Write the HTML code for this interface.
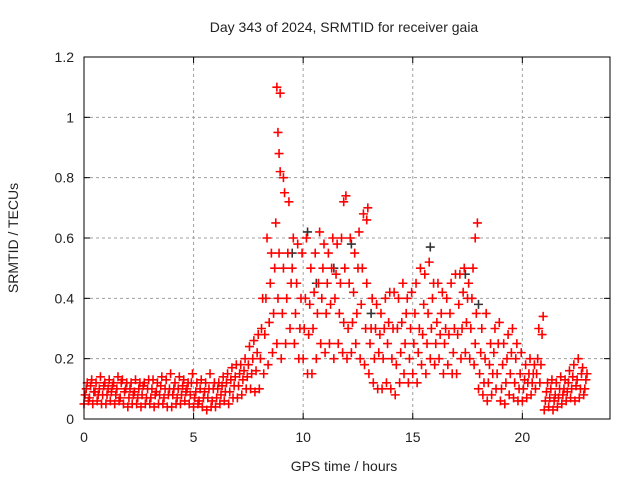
<!DOCTYPE html>
<html><head><meta charset="utf-8"><style>
body{margin:0;background:#fff;}
svg text{font-family:"Liberation Sans",sans-serif;font-size:14px;fill:#222;}
</style></head><body>
<svg id="chart" width="640" height="480" viewBox="0 0 640 480" xmlns="http://www.w3.org/2000/svg">
<rect width="640" height="480" fill="#fff"/>
<text x="344" y="32" text-anchor="middle">Day 343 of 2024, SRMTID for receiver gaia</text>
<g id="grid"></g>
<g id="ticks"></g>
<g id="marks"></g>
<rect x="84" y="57" width="526" height="362" fill="none" stroke="#000" stroke-width="1"/>
<text transform="translate(18,238) rotate(-90)" text-anchor="middle">SRMTID / TECUs</text>
<text x="344" y="471" text-anchor="middle">GPS time / hours</text>
</svg>
<script>
const xTicks=[0,5,10,15,20];
const yTicks=[0,0.2,0.4,0.6,0.8,1,1.2];
const yTickLabels=["0","0.2","0.4","0.6","0.8","1","1.2"];
const hours=[];for(let i=0;i<=114;i++)hours.push(+(i*0.2).toFixed(1));
const seriesA=[.05,.06,.05,.06,.05,.05,.06,.05,.06,.05,.04,.05,.05,.04,.05,.05,.04,.05,.05,.04,.04,.05,.05,.06,.05,.04,.05,.04,.03,.04,.04,.05,.06,.05,.07,.07,.08,.1,.1,.09,.1,.15,.18,.22,.25,.2,.25,.3,.25,.2,.2,.15,.15,.2,.25,.22,.25,.2,.25,.22,.2,.22,.25,.2,.18,.15,.12,.1,.1,.12,.1,.08,.12,.15,.12,.15,.12,.18,.15,.2,.18,.2,.15,.18,.15,.15,.2,.22,.2,.18,.1,.08,.06,.08,.1,.06,.05,.08,.07,.06,.06,.07,.08,.1,.12,.03,.04,.03,.04,.05,.06,.07,.06,.07,.08];
const seriesB=[.08,.07,.09,.08,.08,.08,.09,.08,.07,.09,.07,.08,.07,.08,.07,.07,.08,.08,.07,.08,.08,.07,.08,.09,.08,.07,.06,.07,.07,.06,.07,.08,.09,.09,.11,.11,.13,.14,.15,.16,.2,.28,.32,.35,.4,.35,.4,.45,.35,.3,.3,.28,.3,.35,.4,.35,.38,.4,.35,.32,.3,.32,.35,.38,.3,.25,.2,.22,.2,.25,.2,.18,.22,.25,.2,.25,.22,.28,.25,.3,.25,.28,.25,.28,.22,.28,.3,.32,.3,.25,.15,.12,.12,.15,.15,.1,.12,.15,.12,.1,.1,.12,.12,.15,.18,.06,.07,.06,.07,.08,.09,.1,.11,.1,.1];
const seriesC=[.1,.11,.09,.1,.11,.1,.11,.1,.12,.1,.1,.09,.1,.11,.1,.1,.09,.11,.1,.1,.1,.1,.11,.1,.12,.09,.1,.09,.1,.1,.1,.11,.12,.13,.14,.15,.16,.18,.2,.22,.3,.4,.45,.5,.55,.5,.55,.5,.45,.4,.4,.38,.42,.45,.5,.45,.5,.48,.45,.5,.45,.42,.5,.5,.45,.3,.3,.28,.3,.32,.3,.3,.32,.35,.3,.35,.3,.38,.35,.4,.32,.35,.3,.35,.3,.38,.42,.4,.4,.35,.22,.2,.18,.22,.25,.18,.2,.22,.2,.15,.13,.15,.15,.2,.28,.09,.1,.08,.1,.1,.12,.14,.13,.15,.13];
const seriesD=[.12,.13,.12,.14,.12,.13,.12,.14,.13,.12,.12,.13,.12,.12,.13,.13,.12,.14,.13,.15,.12,.14,.13,.12,.15,.12,.13,.12,.15,.12,.12,.14,.15,.17,.18,.18,.2,.24,.26,.28,.4,.6,.55,.65,1.08,.75,.72,.6,.58,.55,.6,.5,.55,.62,.58,.55,.6,.58,.6,.74,.6,.55,.62,.68,.7,.4,.38,.35,.4,.42,.42,.4,.45,.4,.42,.45,.5,.48,.52,.45,.45,.42,.4,.45,.48,.48,.5,.45,.5,.65,.3,.35,.25,.3,.32,.25,.28,.3,.25,.22,.18,.2,.18,.3,.34,.12,.13,.12,.14,.13,.16,.18,.2,.17,.15];
const peakHours=[8.8,8.85,8.9,8.95,9.1,11.85,12.9,17.85];
const peakValues=[1.1,0.95,0.88,0.82,0.8,0.72,0.66,0.6];
const darkHours=[9.5,10.2,10.6,11.4,12.2,13.1,15.8,17.4,18.0];
const darkValues=[0.55,0.62,0.45,0.5,0.58,0.35,0.57,0.48,0.38];
const X0=84,X1=610,Y0=419,Y1=57;
const xs=h=>X0+(h/24)*(X1-X0);
const ys=v=>Y0-(v/1.2)*(Y0-Y1);
const NS="http://www.w3.org/2000/svg";
const grid=document.getElementById('grid'),ticks=document.getElementById('ticks'),marks=document.getElementById('marks');
function mk(tag,attrs,parent){const e=document.createElementNS(NS,tag);for(const k in attrs)e.setAttribute(k,attrs[k]);parent.appendChild(e);return e;}
yTicks.forEach((v,i)=>{const y=ys(v);
 if(v>0&&v<1.2){const g=mk('line',{x1:X0,x2:X1,y1:y,y2:y,stroke:'#a0a0a0','stroke-dasharray':'3,3'},grid);
 
 }
 mk('line',{x1:X0,x2:X0+6,y1:y,y2:y,stroke:'#000'},ticks);mk('line',{x1:X1,x2:X1-6,y1:y,y2:y,stroke:'#000'},ticks);
 const t=mk('text',{x:X0-10,y:y+5,'text-anchor':'end'},ticks);t.textContent=yTickLabels[i];
 
 });
xTicks.forEach(h=>{const x=xs(h);
 if(h>0){const g=mk('line',{x1:x,x2:x,y1:Y0,y2:Y1,stroke:'#a0a0a0','stroke-dasharray':'3,3'},grid);
 
 }
 mk('line',{x1:x,x2:x,y1:Y0,y2:Y0-6,stroke:'#000'},ticks);mk('line',{x1:x,x2:x,y1:Y1,y2:Y1+6,stroke:'#000'},ticks);
 const t=mk('text',{x:x,y:Y0+23,'text-anchor':'middle'},ticks);t.textContent=String(h);
 
 });
function plus(h,v,col){const x=xs(h),y=ys(v);
 const p=mk('path',{d:`M${x-4.5} ${y}H${x+4.5}M${x} ${y-4.5}V${y+4.5}`,stroke:col,'stroke-width':1.6,fill:'none'},marks);
 
 }
darkHours.forEach((h,i)=>plus(h,darkValues[i],'#333'));
[seriesA,seriesB,seriesC,seriesD].forEach((s,k)=>s.forEach((v,i)=>plus(hours[i]+k*0.05,v,'#f00')));
peakHours.forEach((h,i)=>plus(h,peakValues[i],'#f00'));
</script>
</body></html>
